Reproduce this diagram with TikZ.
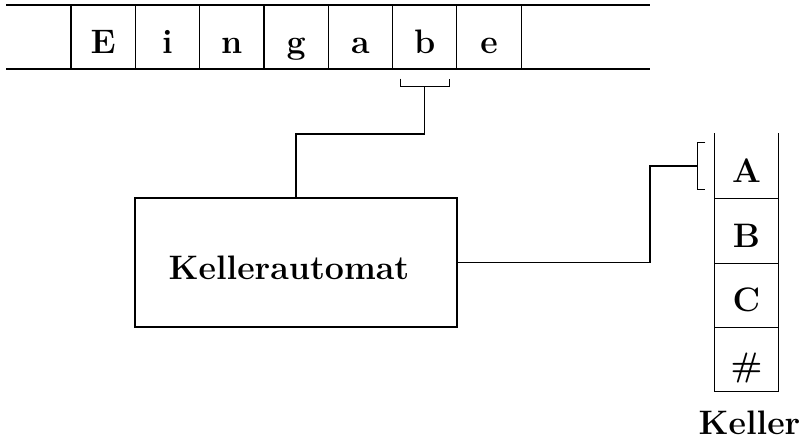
\documentclass[tikz,border=0pt]{standalone}
\usepackage{fix-cm}
\begin{document}
\begin{tikzpicture}[x=0.4419pt,y=-0.4419pt,line width=0.5pt,
  lab/.style={font=\fontsize{15}{18}\selectfont\bfseries,inner sep=0pt,text height=15pt,text depth=0pt},
  cell/.style={lab,draw,minimum width=28.42pt,minimum height=28.3pt},
  scell/.style={lab,minimum width=27.84pt,minimum height=28.42pt},
  bigbox/.style={draw,inner sep=0pt,minimum width=142.3pt,minimum height=57pt}]
\useasboundingbox (0,0) rectangle (801,441);
% tape
\draw (6,5) -- (650,5);
\draw (6,69) -- (650,69);
\node[cell] (t1) at (103.2,37) {E};
\node[cell] (t2) at (167.5,37) {i};
\node[cell] (t3) at (231.8,37) {n};
\node[cell] (t4) at (296.1,37) {g};
\node[cell] (t5) at (360.4,37) {a};
\node[cell] (t6) at (424.7,37) {b};
\node[cell] (t7) at (489.0,37) {e};
% automaton
\node[bigbox] (ka) at (296,262.5) {};
\node[lab] (katext) at (289,262.5) {Kellerautomat};
% stack
\node[scell] (sA) at (746.5,166) {A};
\node[scell] (sB) at (746.5,230.5) {B};
\node[scell] (sC) at (746.5,294.8) {C};
\node[scell] (sH) at (746.5,359.1) {\#};
\draw (sA.north west) -- (sH.south west) -- (sH.south east) -- (sA.north east);
\draw (sA.south west) -- (sA.south east);
\draw (sB.south west) -- (sB.south east);
\draw (sC.south west) -- (sC.south east);
\node[lab] (keller) at (749.5,418) {Keller};
% head bracket on tape
\coordinate (hb) at ([yshift=-17*0.4419pt]t6.south);
\draw ([xshift=-24.5*0.4419pt,yshift=-9*0.4419pt]t6.south) -- ([xshift=-24.5*0.4419pt]hb) -- ([xshift=24.5*0.4419pt]hb) -- ([xshift=24.5*0.4419pt,yshift=-9*0.4419pt]t6.south);
\coordinate (hk) at (hb |- 0,134);
\draw (hb) -- (hk) -| (ka.north);
% stack bracket
\coordinate (sb) at ([xshift=-17*0.4419pt]sA.west);
\draw ([xshift=-9*0.4419pt,yshift=23.5*0.4419pt]sA.west) -- ([yshift=23.5*0.4419pt]sb) -- ([yshift=-23.5*0.4419pt]sb) -- ([xshift=-9*0.4419pt,yshift=-23.5*0.4419pt]sA.west);
\coordinate (sk) at (650,262.5);
\draw (ka.east) -- (sk) |- (sb);
\end{tikzpicture}
\end{document}
